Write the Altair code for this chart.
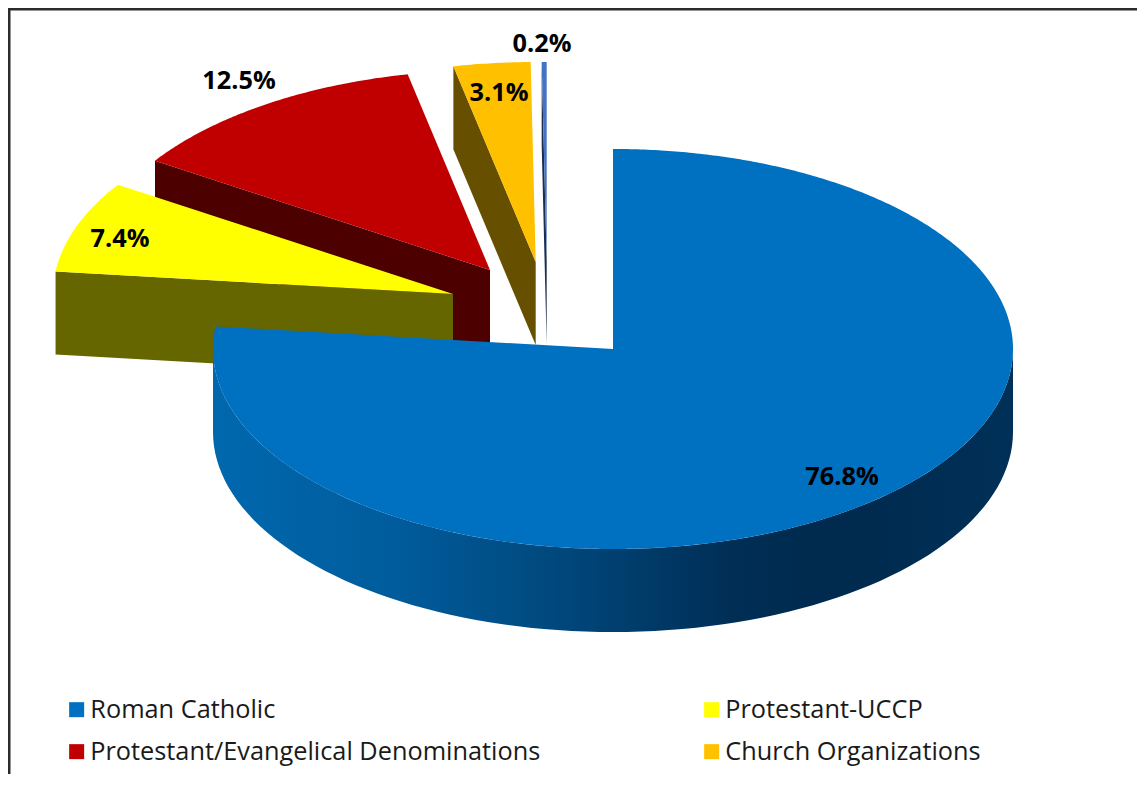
import math
import altair as alt
import pandas as pd

categories = ["Roman Catholic", "Protestant-UCCP", "Protestant/Evangelical Denominations",
              "Church Organizations", "Other"]
values = [76.8, 7.4, 12.5, 3.1, 0.2]
colors = ["#0070C0", "#FFFF00", "#C00000", "#FFC000", "#4472C4"]
wall_colors = ["#00406E", "#666600", "#4D0000", "#665000", "#1B2E50"]
labels = ["76.8%", "7.4%", "12.5%", "3.1%", "0.2%"]
legend_entries = ["Roman Catholic", "Protestant/Evangelical Denominations",
                  "Protestant-UCCP", "Church Organizations"]

# pie geometry, in the pixel units the two scales use
RX, RY, DEPTH = 400, 200, 83
centers = [(613, 349), (453, 294), (490, 270), (535.7, 262), (546.7, 262)]
label_pos = [(842, 477), (120, 239), (239, 81), (499, 93), (542, 44)]
W, H = 1129, 766


def ell(c, deg, dy=0):
    a = math.radians(deg)
    return c[0] + RX * math.sin(a), c[1] - RY * math.cos(a) + dy


starts = [sum(values[:i]) * 3.6 for i in range(len(values))]
ends = [sum(values[:i + 1]) * 3.6 for i in range(len(values))]


def frame(pts, cat):
    return pd.DataFrame({"x": [p[0] for p in pts], "y": [p[1] for p in pts],
                         "i": range(len(pts)), "category": cat})


x_enc = alt.X("x:Q", axis=None, scale=alt.Scale(domain=[8, 8 + W], nice=False, zero=False))
y_enc = alt.Y("y:Q", axis=None, scale=alt.Scale(domain=[8, 8 + H], nice=False, zero=False, reverse=True))
fill_enc = alt.Fill("category:N", scale=alt.Scale(domain=categories, range=colors),
                    legend=alt.Legend(title=None, values=legend_entries, orient="none", columns=2,
                                      legendX=56, legendY=689, symbolType="square", symbolSize=225,
                                      symbolStrokeWidth=0, labelFont="Open Sans", labelFontSize=25.3,
                                      labelColor="#1a1a1a", labelOffset=1, columnPadding=158,
                                      rowPadding=16, labelLimit=600))


def poly(df, fill=None):
    base = alt.Chart(df)
    if fill is None:
        return base.mark_line(strokeWidth=0, interpolate="linear").encode(
            x=x_enc, y=y_enc, order="i:Q", fill=fill_enc)
    return base.mark_line(strokeWidth=0, fill=fill, interpolate="linear").encode(
        x=x_enc, y=y_enc, order="i:Q")


layers = []
# frame along the top and left edges
layers.append(alt.Chart(pd.DataFrame({"x": [8, 8 + W], "y": [9, 9]})).mark_line(
    color="#2b2b2b", strokeWidth=3).encode(x=x_enc, y=y_enc))
layers.append(alt.Chart(pd.DataFrame({"x": [9, 9], "y": [8, 8 + H]})).mark_line(
    color="#2b2b2b", strokeWidth=3).encode(x=x_enc, y=y_enc))

for i in [4, 3, 2, 1]:
    c = centers[i]
    p0 = ell(c, starts[i])
    wall = [p0, c, (c[0], c[1] + DEPTH), (p0[0], p0[1] + DEPTH)]
    layers.append(poly(frame(wall, categories[i]), wall_colors[i]))
    steps = max(4, int(ends[i] - starts[i]) * 2)
    arc = [ell(c, starts[i] + (ends[i] - starts[i]) * k / steps) for k in range(steps + 1)]
    layers.append(poly(frame([c] + arc, categories[i])))

# blue cylinder side, horizontal shading
c = centers[0]
side_top = [ell(c, 90 + k) for k in range(0, 181, 2)]
side_bot = [ell(c, 270 - k, DEPTH) for k in range(0, 181, 2)]
side_fill = alt.Gradient(gradient="linear", x1=0, x2=1, y1=0, y2=0, stops=[
    alt.GradientStop(color="#0068AE", offset=0.0),
    alt.GradientStop(color="#005C9C", offset=0.23),
    alt.GradientStop(color="#004679", offset=0.45),
    alt.GradientStop(color="#002E55", offset=0.65),
    alt.GradientStop(color="#002A4E", offset=0.78),
    alt.GradientStop(color="#003058", offset=1.0),
])
layers.append(poly(frame(side_top + side_bot, "side"), side_fill))
arc = [ell(c, starts[0] + ends[0] * k / 552) for k in range(553)]
layers.append(poly(frame([c] + arc, categories[0])))

labels_df = pd.DataFrame({"x": [p[0] for p in label_pos], "y": [p[1] for p in label_pos], "t": labels})
layers.append(alt.Chart(labels_df).mark_text(font="Open Sans", fontWeight="bold", fontSize=25.3,
                                             color="#000000", align="center", baseline="middle").encode(
    x=x_enc, y=y_enc, text="t:N"))

chart = alt.layer(*layers).resolve_scale(fill="shared").properties(
    width=W, height=H, padding=0, background="white",
    autosize=alt.AutoSizeParams(type="none")).configure_view(stroke=None)
chart.save("out.html", embed_options={"renderer": "svg", "actions": False})
